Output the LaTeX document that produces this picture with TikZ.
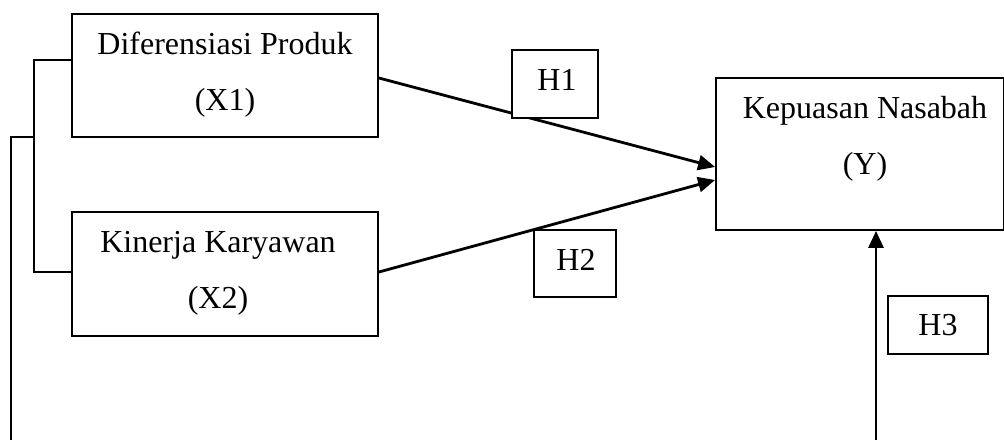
\documentclass[tikz,border=0pt]{standalone}
\usepackage{fontspec}
\setmainfont{Liberation Serif}
\usepackage{tikz}
\usetikzlibrary{arrows.meta}
\usetikzlibrary{positioning}
\usetikzlibrary{calc}
\newcommand{\txtsize}{\fontsize{16pt}{28pt}\selectfont}

\begin{document}
\begin{tikzpicture}[
  x=0.5pt, y=-0.5pt,
  dep/.style ={
    -{Triangle[length=8.5pt,width=7.5pt]},line width=1.4pt
  },
  brk/.style={
    line width=0.9pt},
  var/.style 2 args={
    rectangle,
    draw=black,
    line width=0.9pt,
    minimum width=#1,
    minimum height=#2,
    inner sep=0pt},
  hyp/.style 2 args={
    rectangle,
    draw=black,
    fill=white,
    line width=0.9pt,
    minimum width=#1,
    minimum height=#2,
    inner sep=0pt},
  lbl/.style={
    align=center,
    font=\txtsize},
]

  \clip (0,0) rectangle (1004,440);

        \node[var={153pt}{61.5pt}] (x1) at (225,75.5) {};
        \node[lbl] at (225,75) {Diferensiasi Produk\\(X1)};

        \node[var={153pt}{62pt}] (x2) at (225,274) {};
        \node[lbl] at (218,273) {Kinerja Karyawan\\(X2)};

        \node[var={144pt}{76pt}] (y) at (860,154) {};
        \node[lbl] at (865,139) {Kepuasan Nasabah\\(Y)};


        \coordinate (brk_1) at (34,60);
        \coordinate (brk_2) at (34,272);
        \coordinate (brk_mid) at (34,137);
        \coordinate (out_1) at (11,137);
        \coordinate (out_2) at (11,440);
        \coordinate (h3_start) at (876,440);

        \draw[brk] (x1.west |- brk_1) -- (brk_1) -- (brk_2) -- (x2.west |- brk_2);
        \draw[brk] (brk_mid) -- (out_1) -- (out_2);


        \draw[dep] ($(x1.east)+(0,2.5)$) to ($(y.west)+(0,13)$);
        \draw[dep] ($(x2.east)+(0,-2)$) to ($(y.west)+(0,26)$);
        \draw[dep] (h3_start) to (h3_start |- y.south);


        \node[hyp={43pt}{34pt}] (h_1) at (555,84) {};
        \node[lbl] at (557,80) {H1};

        \node[hyp={41pt}{33.5pt}] (h_2) at (575,263.5) {};
        \node[lbl] at (576,259.5) {H2};

        \node[hyp={50pt}{29pt}] (h_3) at (938,325) {};
        \node[lbl] at (938,325.5) {H3};

\end{tikzpicture}
\end{document}
